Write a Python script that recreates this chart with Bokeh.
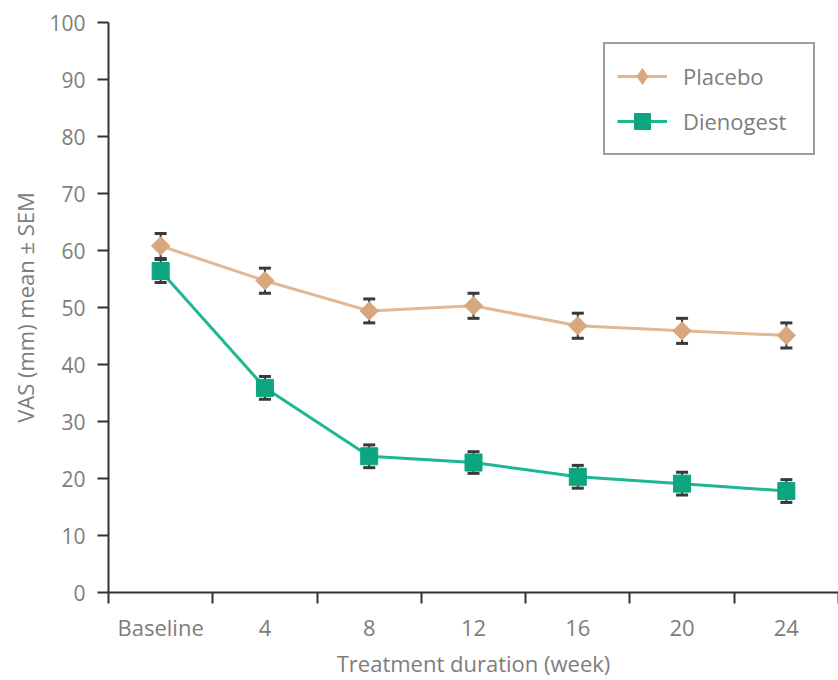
import math
from bokeh.plotting import figure
from bokeh.models import (ColumnDataSource, FixedTicker, Legend, LegendItem, Range1d)
from bokeh.embed import file_html
from bokeh.resources import INLINE

# ---- data ----
categories = ["Baseline", "4", "8", "12", "16", "20", "24"]
placebo_mean = [60.8, 54.7, 49.4, 50.3, 46.8, 45.9, 45.1]
placebo_sem = [2.2, 2.2, 2.1, 2.2, 2.2, 2.2, 2.2]
dienogest_mean = [56.4, 35.9, 23.9, 22.8, 20.3, 19.1, 17.8]
dienogest_sem = [2.0, 2.0, 2.0, 1.9, 2.0, 2.0, 2.0]
y_ticks = [0, 10, 20, 30, 40, 50, 60, 70, 80, 90, 100]

FONT = "Open Sans"
TEXT_COLOR = "#7d7d7d"
AXIS_COLOR = "#333333"
PL_LINE, PL_FILL = "#E2B792", "#D9A77D"
DN_LINE, DN_FILL = "#1DB893", "#0BA67F"

xs = [i + 0.5 for i in range(len(categories))]
boundaries = [float(i) for i in range(len(categories) + 1)]

def make_source(mean, sem):
    return ColumnDataSource(dict(
        x=xs, y=mean,
        upper=[m + s for m, s in zip(mean, sem)],
        lower=[m - s for m, s in zip(mean, sem)],
    ))

src_p = make_source(placebo_mean, placebo_sem)
src_d = make_source(dienogest_mean, dienogest_sem)

p = figure(width=838, height=680, output_backend="svg", toolbar_location=None,
           x_range=Range1d(0, 7), y_range=Range1d(0, 100),
           min_border_left=108, min_border_right=0, min_border_top=22,
           min_border_bottom=85)
p.outline_line_color = None
p.xgrid.visible = False
p.ygrid.visible = False
p.background_fill_color = "white"
p.border_fill_color = "white"

# error bars (behind markers)
for src in (src_p, src_d):
    p.segment(x0="x", x1="x", y0="lower", y1="upper", source=src,
              line_color="#3a3a3a", line_width=2)
    p.scatter(x="x", y="upper", source=src, marker="dash", size=12,
              line_color="#3a3a3a", line_width=3)
    p.scatter(x="x", y="lower", source=src, marker="dash", size=12,
              line_color="#3a3a3a", line_width=3)

pl_line = p.line(x="x", y="y", source=src_p, line_color=PL_LINE, line_width=3)
pl_mark = p.scatter(x="x", y="y", source=src_p, marker="square", size=13,
                    angle=math.pi / 4, fill_color=PL_FILL, line_color=PL_FILL)
dn_line = p.line(x="x", y="y", source=src_d, line_color=DN_LINE, line_width=3)
dn_mark = p.scatter(x="x", y="y", source=src_d, marker="square", size=17,
                    fill_color=DN_FILL, line_color=DN_FILL)

# legend-only diamond glyph (legend glyphs cannot be rotated); NaN -> nothing drawn in plot
legend_src = ColumnDataSource(dict(x=[float("nan")], y=[float("nan")]))
pl_leg_mark = p.scatter(x="x", y="y", source=legend_src, marker="diamond", size=20,
                        fill_color=PL_FILL, line_color=PL_FILL)

# x axis
xa = p.xaxis[0]
xa.ticker = FixedTicker(ticks=xs, minor_ticks=boundaries)
xa.major_label_overrides = {x: c for x, c in zip(xs, categories)}
xa.major_tick_out = 0
xa.major_tick_in = 0
xa.minor_tick_out = 11
xa.minor_tick_in = 0
xa.minor_tick_line_color = AXIS_COLOR
xa.minor_tick_line_width = 2
xa.axis_line_color = AXIS_COLOR
xa.axis_line_width = 2
xa.major_label_standoff = 8
xa.major_label_text_font = FONT
xa.major_label_text_font_size = "22px"
xa.major_label_text_color = TEXT_COLOR
xa.axis_label = "Treatment duration (week)"
xa.axis_label_text_font = FONT
xa.axis_label_text_font_size = "22px"
xa.axis_label_text_font_style = "normal"
xa.axis_label_text_color = TEXT_COLOR
xa.axis_label_standoff = 3

# y axis
ya = p.yaxis[0]
ya.ticker = FixedTicker(ticks=y_ticks)
ya.major_tick_out = 11
ya.major_tick_in = 0
ya.minor_tick_line_color = None
ya.major_tick_line_color = AXIS_COLOR
ya.major_tick_line_width = 2
ya.axis_line_color = AXIS_COLOR
ya.axis_line_width = 2
ya.major_label_standoff = 12
ya.major_label_text_font = FONT
ya.major_label_text_font_size = "21px"
ya.major_label_text_color = TEXT_COLOR
ya.axis_label = "VAS (mm) mean ± SEM"
ya.axis_label_text_font = FONT
ya.axis_label_text_font_size = "22px"
ya.axis_label_text_font_style = "normal"
ya.axis_label_text_color = TEXT_COLOR
ya.axis_label_standoff = 6

legend = Legend(items=[
    LegendItem(label="Placebo", renderers=[pl_line, pl_leg_mark]),
    LegendItem(label="Dienogest", renderers=[dn_line, dn_mark]),
], location=(495, 437))
legend.border_line_color = "#3d3d3d"
legend.border_line_width = 2
legend.background_fill_color = "white"
legend.background_fill_alpha = 1
legend.padding = 12
legend.margin = 0
legend.spacing = 5
legend.label_height = 40
legend.glyph_height = 40
legend.glyph_width = 50
legend.label_standoff = 16
legend.label_width = 118
legend.label_text_font = FONT
legend.label_text_font_size = "22px"
legend.label_text_color = TEXT_COLOR
p.add_layout(legend, "center")

open("out.html", "w").write(file_html(p, INLINE))
